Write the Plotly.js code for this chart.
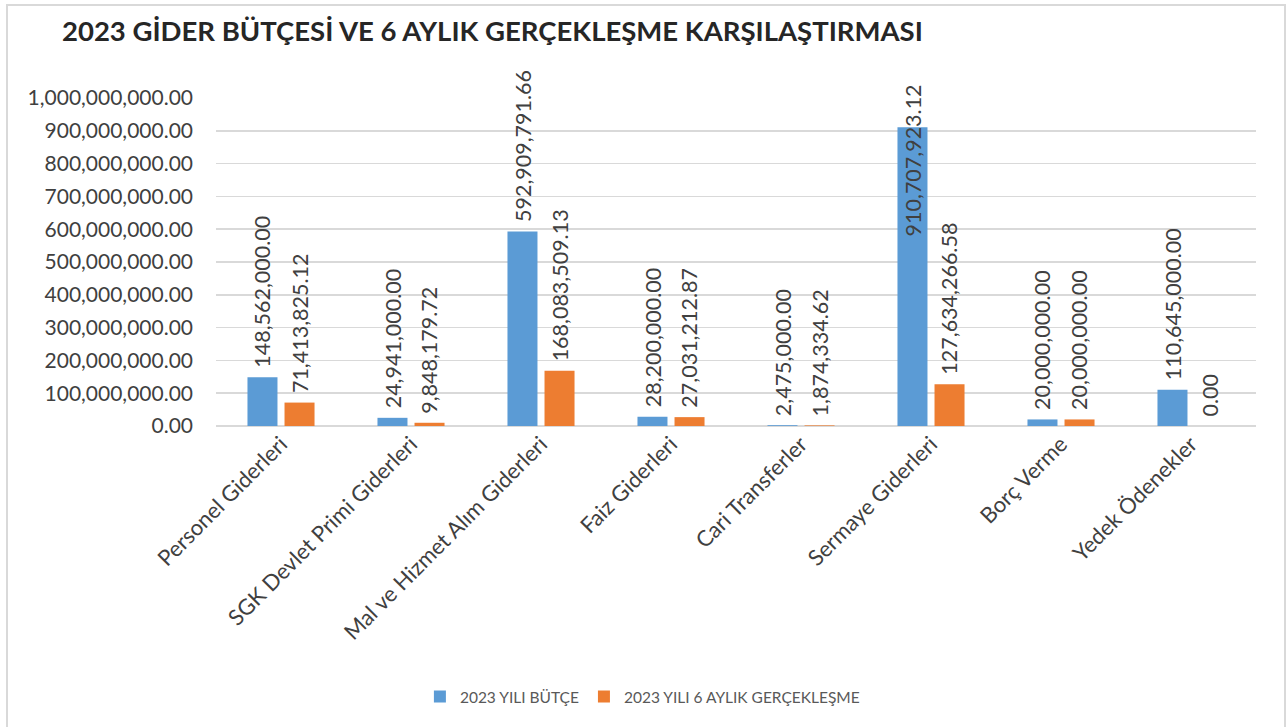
<!DOCTYPE html>
<html>
<head>
<meta charset="utf-8">
<script src="https://cdn.plot.ly/plotly-3.0.1.min.js"></script>
<style>
html,body{margin:0;padding:0;background:#fff;overflow:hidden;}
#wrap{position:relative;width:1288px;height:727px;}
#chart{position:absolute;left:0;top:0;width:1288px;height:727px;}
#frame{position:absolute;left:6px;top:4px;width:1276px;height:740px;border:2px solid #d9d9d9;pointer-events:none;}
</style>
</head>
<body>
<div id="wrap"><div id="chart"></div><div id="frame"></div></div>
<script>
const categories = ["Personel Giderleri","SGK Devlet Primi Giderleri","Mal ve Hizmet Alım Giderleri","Faiz Giderleri","Cari Transferler","Sermaye Giderleri","Borç Verme","Yedek Ödenekler"];
const budget2023 = [148562000.00, 24941000.00, 592909791.66, 28200000.00, 2475000.00, 910707923.12, 20000000.00, 110645000.00];
const actual6m = [71413825.12, 9848179.72, 168083509.13, 27031212.87, 1874334.62, 127634266.58, 20000000.00, 0.00];
const seriesNames = ["2023 YILI BÜTÇE", "2023 YILI 6 AYLIK GERÇEKLEŞME"];
const yTickVals = [0,100000000,200000000,300000000,400000000,500000000,600000000,700000000,800000000,900000000,1000000000];

const fmt = v => v.toLocaleString('en-US',{minimumFractionDigits:2, maximumFractionDigits:2});
const FONT = "Lato, 'Open Sans', sans-serif";

const traces = [
  {type:'bar', name:seriesNames[0], x:categories, y:budget2023, marker:{color:'#5b9bd5'}, hoverinfo:'none'},
  {type:'bar', name:seriesNames[1], x:categories, y:actual6m, marker:{color:'#ed7d31'}, hoverinfo:'none'}
];

const annotations = [];
[budget2023, actual6m].forEach((arr, s) => {
  arr.forEach((v, i) => {
    const a = {x:categories[i], xref:'x', text:fmt(v), textangle:-90, showarrow:false,
      xshift: s===0 ? -18.5 : 18.5, font:{family:FONT, size:21.5, color:'#404040'}};
    if (v > 750000000) { a.yref='paper'; a.y=1.046; a.yanchor='top'; }
    else { a.yref='y'; a.y=v; a.yanchor='bottom'; a.yshift=7; }
    annotations.push(a);
  });
});

const layout = {
  width:1288, height:727,
  paper_bgcolor:'#fff', plot_bgcolor:'#fff',
  margin:{l:216, r:32, t:98, b:301, pad:0},
  title:{text:'<b>2023 GİDER BÜTÇESİ VE 6 AYLIK GERÇEKLEŞME KARŞILAŞTIRMASI</b>',
    font:{family:FONT, size:27.5, color:'#262626'}, xref:'container', x:62/1288, xanchor:'left',
    yref:'container', y:1-31/727, yanchor:'middle'},
  barmode:'group', bargap:0.43, bargroupgap:0.19,
  xaxis:{type:'category', tickangle:-45, tickfont:{family:FONT, size:22, color:'#404040'},
    showgrid:false, zeroline:false, showline:false, ticks:'', fixedrange:true},
  yaxis:{range:[0,1000000000], tickvals:yTickVals, ticktext:yTickVals.map(fmt),
    tickfont:{family:FONT, size:21, color:'#404040'}, gridcolor:'#d9d9d9', gridwidth:1.5,
    zeroline:true, zerolinecolor:'#d9d9d9', zerolinewidth:1.5, showline:false, ticks:'', ticklabelstandoff:22, fixedrange:true},
  legend:{orientation:'h', x:0.41, xanchor:'center', y:-0.826, yanchor:'middle',
    font:{family:FONT, size:15.5, color:'#595959'}, itemwidth:30, traceorder:'normal'},
  annotations:annotations,
  showlegend:true
};

Plotly.newPlot('chart', traces, layout, {displayModeBar:false, staticPlot:true});
</script>
</body>
</html>
